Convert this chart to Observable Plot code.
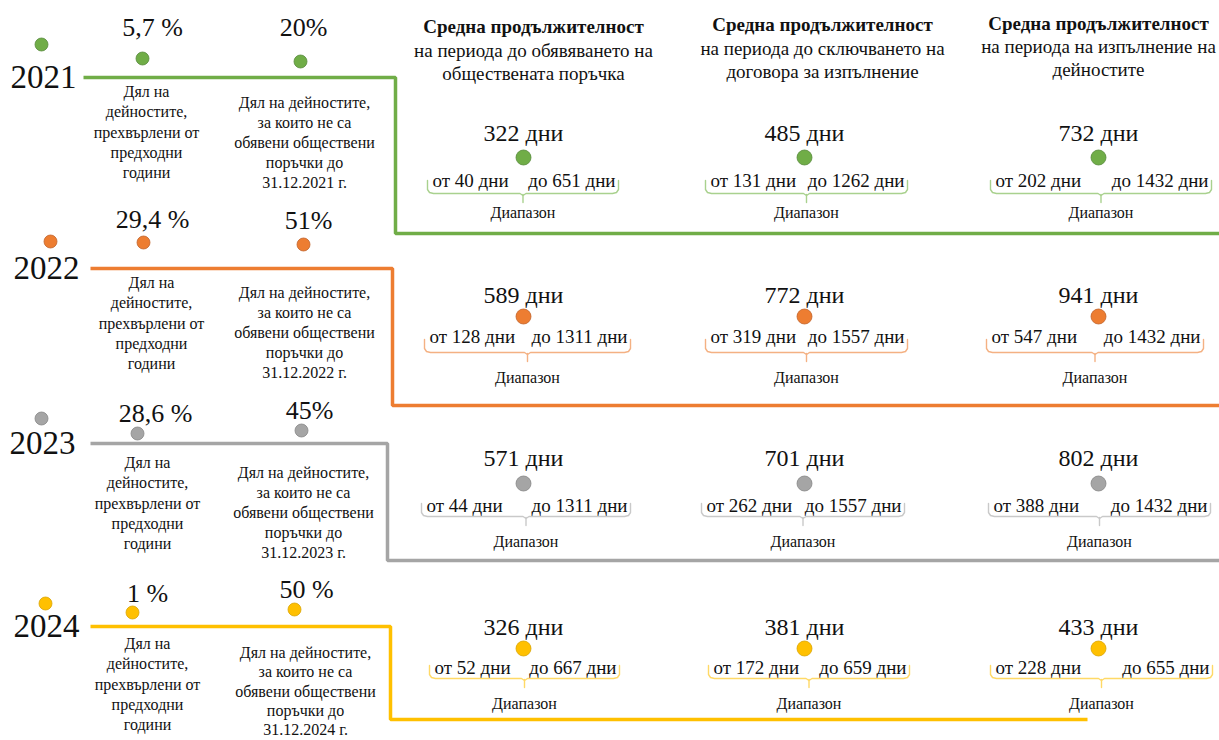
<!DOCTYPE html>
<html>
<head>
<meta charset="utf-8">
<script src="https://cdn.jsdelivr.net/npm/d3@7"></script>
<script src="https://cdn.jsdelivr.net/npm/@observablehq/plot@0.6"></script>
<style>
html, body { margin: 0; padding: 0; background: #fff; overflow: hidden; }
#chart svg { display: block; }
</style>
</head>
<body>
<div id="chart"></div>
<script>
// ---------------- DATA ----------------
const years = ["2021", "2022", "2023", "2024"];
const carriedOverShare = ["5,7 %", "29,4 %", "28,6 %", "1 %"];
const notAnnouncedShare = ["20%", "51%", "45%", "50 %"];
const carriedOverLabel = "Дял на\nдейностите,\nпрехвърлени от\nпредходни\nгодини";
const notAnnouncedLabels = [
  "Дял на дейностите,\nза които не са\nобявени обществени\nпоръчки до\n31.12.2021 г.",
  "Дял на дейностите,\nза които не са\nобявени обществени\nпоръчки до\n31.12.2022 г.",
  "Дял на дейностите,\nза които не са\nобявени обществени\nпоръчки до\n31.12.2023 г.",
  "Дял на дейностите,\nза които не са\nобявени обществени\nпоръчки до\n31.12.2024 г."
];
const stageTitles = ["Средна продължителност", "Средна продължителност", "Средна продължителност"];
const stageSubtitles = [
  "на периода до обявяването на\nобществената поръчка",
  "на периода до сключването на\nдоговора за изпълнение",
  "на периода на изпълнение на\nдейностите"
];
const rangeLabel = "Диапазон";
const daysUnit = "дни";

// average days per year (2021..2024)
const avgAnnounce  = [322, 589, 571, 326];
const avgContract  = [485, 772, 701, 381];
const avgExecution = [732, 941, 802, 433];
// range minimum
const minAnnounce  = [40, 128, 44, 52];
const minContract  = [131, 319, 262, 172];
const minExecution = [202, 547, 388, 228];
// range maximum
const maxAnnounce  = [651, 1311, 1311, 667];
const maxContract  = [1262, 1557, 1557, 659];
const maxExecution = [1432, 1432, 1432, 655];

// ---------------- STYLE / LAYOUT ----------------
const rowColors   = ["#70AD47", "#ED7D31", "#A5A5A5", "#FFC000"];
const dotStrokes  = ["#56893A", "#C0622A", "#858585", "#D9A300"];
const braceColors = ["#A9D18E", "#F4B183", "#C9C9C9", "#FFD966"];
const FONT = "Liberation Serif, 'Times New Roman', serif";
const W = 1219, H = 740;

const lineY      = [77, 268, 443, 626];
const lineStartX = [83, 90, 90, 90];
const elbowX     = [395, 392, 387, 390];
const lowerY     = [233, 405, 560, 719];
const lowerEndX  = [W, W, W, 1087];

const yearX    = [43, 46, 42, 46];
const yearDotX = [41, 50, 41, 45];
const yearDotY = [44, 241, 418, 603];

const shareLX = [152, 152, 155, 147], shareLY = [27, 219, 413, 593];
const dotLX   = [142, 143, 137, 132], dotLY   = [58, 242, 433, 612];
const shareRX = [303, 308, 309, 306], shareRY = [27, 220, 410, 589];
const dotRX   = [300, 303, 301, 294], dotRY   = [61, 244, 430, 609];
const labelLX = [146, 151, 147, 147], labelLY = [89, 280, 460, 641];
const labelRX = [304, 304, 303, 305], labelRY = [100, 290, 470, 651];

const colX      = [523, 804, 1098];
const headX     = [533, 822, 1098];
const headTitleY = [26, 24, 23];
const headSubY   = [49, 47, 45];
const braceX0   = [[427, 705, 990], [424, 705, 986], [421, 701, 988], [429, 708, 990]];
const braceX1   = [[618, 907, 1211], [630, 907, 1203], [630, 904, 1210], [619, 909, 1212]];
const valueY    = [133, 295, 458, 627];
const vDotY     = [157, 316, 483, 648];
const rangeY    = [180, 336, 505, 667];
const braceY    = [193, 352, 516, 678];
const diapY     = [212, 377, 541, 703];

// ---------------- BUILD TABLES ----------------
const avgs = [avgAnnounce, avgContract, avgExecution];
const mins = [minAnnounce, minContract, minExecution];
const maxs = [maxAnnounce, maxContract, maxExecution];

const rows = years.map((year, i) => ({i, year}));
const cells = years.flatMap((year, r) => [0, 1, 2].map(c => ({
  r, c, avg: avgs[c][r], min: mins[c][r], max: maxs[c][r]
})));
const heads = stageTitles.map((t, c) => ({c, title: t, sub: stageSubtitles[c]}));

const bx0 = d => braceX0[d.r][d.c];
const bx1 = d => braceX1[d.r][d.c];

const framePts = rows.flatMap(d => [
  {i: d.i, x: lineStartX[d.i], y: lineY[d.i]},
  {i: d.i, x: elbowX[d.i], y: lineY[d.i]},
  {i: d.i, x: elbowX[d.i], y: lowerY[d.i]},
  {i: d.i, x: lowerEndX[d.i], y: lowerY[d.i]}
]);

const bracePts = cells.flatMap(d => {
  const x0 = bx0(d), x1 = bx1(d), L = braceY[d.r], id = d.r * 3 + d.c;
  const xm = (x0 + x1) / 2;
  return [
    {id, r: d.r, x: x0, y: L - 13},
    {id, r: d.r, x: x0, y: L - 4},
    {id, r: d.r, x: x0 + 2, y: L - 1},
    {id, r: d.r, x: x0 + 6, y: L},
    {id, r: d.r, x: xm - 3, y: L},
    {id, r: d.r, x: xm, y: L + 2},
    {id, r: d.r, x: xm + 3, y: L},
    {id, r: d.r, x: x1 - 6, y: L},
    {id, r: d.r, x: x1 - 2, y: L - 1},
    {id, r: d.r, x: x1, y: L - 4},
    {id, r: d.r, x: x1, y: L - 13}
  ];
});
const braceTicks = cells.flatMap(d => {
  const xm = (bx0(d) + bx1(d)) / 2, L = braceY[d.r], id = d.r * 3 + d.c;
  return [{id, r: d.r, x: xm, y: L + 1}, {id, r: d.r, x: xm, y: L + 9}];
});

const txt = {fontFamily: FONT, fill: "#111"};
const upperRows = rows.filter(d => d.i < 3);
const lastRow = rows.filter(d => d.i === 3);

const chart = Plot.plot({
  width: W,
  height: H,
  margin: 0,
  x: {domain: [0, W], range: [0, W], axis: null},
  y: {domain: [0, H], range: [0, H], axis: null},
  style: {background: "#fff"},
  marks: [
    // frame lines
    Plot.line(framePts, {x: "x", y: "y", z: "i", stroke: d => rowColors[d.i], strokeWidth: 3.5, strokeLinejoin: "miter", strokeLinecap: "butt"}),
    // braces
    Plot.line(bracePts, {x: "x", y: "y", z: "id", stroke: d => braceColors[d.r], strokeWidth: 1.4, curve: "linear"}),
    Plot.line(braceTicks, {x: "x", y: "y", z: "id", stroke: d => braceColors[d.r], strokeWidth: 1.4}),
    // year labels and dots
    Plot.text(rows, {...txt, x: d => yearX[d.i], y: d => lineY[d.i], text: "year", fontSize: 33, textAnchor: "middle", lineAnchor: "middle"}),
    Plot.dot(rows, {x: d => yearDotX[d.i], y: d => yearDotY[d.i], r: 6.5, fill: d => rowColors[d.i], stroke: d => dotStrokes[d.i], strokeWidth: 0.8}),
    // shares
    Plot.text(rows, {...txt, x: d => shareLX[d.i], y: d => shareLY[d.i], text: d => carriedOverShare[d.i], fontSize: 26, textAnchor: "middle", lineAnchor: "middle"}),
    Plot.dot(rows, {x: d => dotLX[d.i], y: d => dotLY[d.i], r: 6.5, fill: d => rowColors[d.i], stroke: d => dotStrokes[d.i], strokeWidth: 0.8}),
    Plot.text(rows, {...txt, x: d => shareRX[d.i], y: d => shareRY[d.i], text: d => notAnnouncedShare[d.i], fontSize: 26, textAnchor: "middle", lineAnchor: "middle"}),
    Plot.dot(rows, {x: d => dotRX[d.i], y: d => dotRY[d.i], r: 6.5, fill: d => rowColors[d.i], stroke: d => dotStrokes[d.i], strokeWidth: 0.8}),
    // share descriptions
    Plot.text(rows, {...txt, x: d => labelLX[d.i], y: d => labelLY[d.i] - 7, text: () => carriedOverLabel, fontSize: 16, lineHeight: 1.27, textAnchor: "middle", lineAnchor: "top"}),
    Plot.text(upperRows, {...txt, x: d => labelRX[d.i], y: d => labelRY[d.i] - 7, text: d => notAnnouncedLabels[d.i], fontSize: 16, lineHeight: 1.26, textAnchor: "middle", lineAnchor: "top"}),
    Plot.text(lastRow, {...txt, x: d => labelRX[d.i], y: d => labelRY[d.i] - 7, text: d => notAnnouncedLabels[d.i], fontSize: 16, lineHeight: 1.2, textAnchor: "middle", lineAnchor: "top"}),
    // stage headers
    Plot.text(heads, {...txt, x: d => headX[d.c], y: d => headTitleY[d.c], text: "title", fontSize: 19, fontWeight: "bold", textAnchor: "middle", lineAnchor: "middle"}),
    Plot.text(heads, {...txt, x: d => headX[d.c], y: d => headSubY[d.c] - 9, text: "sub", fontSize: 19, lineHeight: 1.22, textAnchor: "middle", lineAnchor: "top"}),
    // values
    Plot.text(cells, {...txt, x: d => colX[d.c], y: d => valueY[d.r], text: d => `${d.avg} ${daysUnit}`, fontSize: 24, textAnchor: "middle", lineAnchor: "middle"}),
    Plot.dot(cells, {x: d => colX[d.c], y: d => vDotY[d.r], r: 7.5, fill: d => rowColors[d.r], stroke: d => dotStrokes[d.r], strokeWidth: 0.8}),
    Plot.text(cells, {...txt, x: d => bx0(d) + 5, y: d => rangeY[d.r], text: d => `от ${d.min} ${daysUnit}`, fontSize: 19, textAnchor: "start", lineAnchor: "middle"}),
    Plot.text(cells, {...txt, x: d => bx1(d) - 3, y: d => rangeY[d.r], text: d => `до ${d.max} ${daysUnit}`, fontSize: 19, textAnchor: "end", lineAnchor: "middle"}),
    Plot.text(cells, {...txt, x: d => (bx0(d) + bx1(d)) / 2, y: d => diapY[d.r], text: () => rangeLabel, fontSize: 16, textAnchor: "middle", lineAnchor: "middle"})
  ]
});
document.getElementById("chart").appendChild(chart);
</script>
</body>
</html>
